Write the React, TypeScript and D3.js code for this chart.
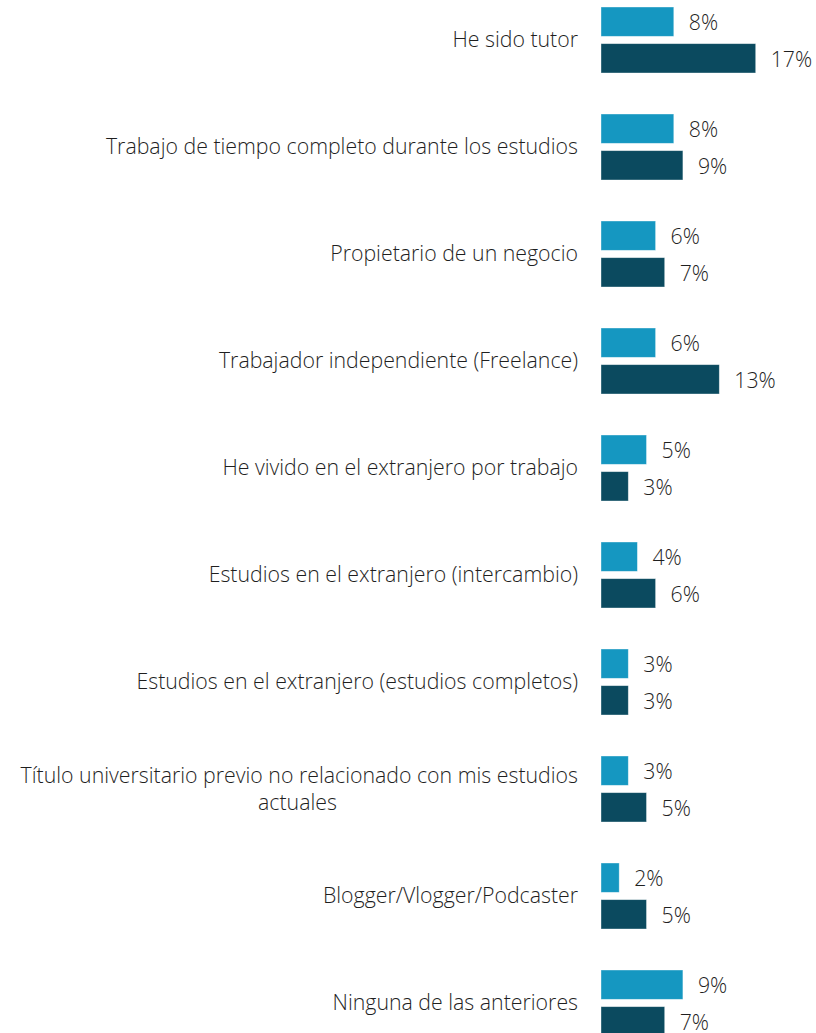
import React from "react";
import * as d3 from "d3";

const categories = [
  "He sido tutor",
  "Trabajo de tiempo completo durante los estudios",
  "Propietario de un negocio",
  "Trabajador independiente (Freelance)",
  "He vivido en el extranjero por trabajo",
  "Estudios en el extranjero (intercambio)",
  "Estudios en el extranjero (estudios completos)",
  "Título universitario previo no relacionado con mis estudios actuales",
  "Blogger/Vlogger/Podcaster",
  "Ninguna de las anteriores",
];
const seriesA = [8, 8, 6, 6, 5, 4, 3, 3, 2, 9];
const seriesB = [17, 9, 7, 13, 3, 6, 3, 5, 5, 7];
const seriesKeys = ["a", "b"];
const colors = ["#1597c1", "#0b4a5f"];

const W = 816;
const H = 1033;
const FONT = "'Open Sans', sans-serif";
const FS = 21.3;

function wrapLabel(label: string, maxChars: number): string[] {
  const words = label.split(" ");
  const lines: string[] = [];
  let cur = "";
  for (const w of words) {
    const t = cur ? cur + " " + w : w;
    if (t.length > maxChars && cur) {
      lines.push(cur);
      cur = w;
    } else cur = t;
  }
  if (cur) lines.push(cur);
  return lines;
}

export default function App() {
  const x = d3.scaleLinear().domain([0, 1]).range([601, 601 + 9.1]);
  const y = d3
    .scaleBand<string>()
    .domain(categories)
    .range([7, 1036])
    .paddingInner(41 / 107)
    .paddingOuter(0);
  const inner = d3
    .scaleBand<string>()
    .domain(seriesKeys)
    .range([0, y.bandwidth()])
    .paddingInner(0.2);

  const series = [seriesA, seriesB];

  return (
    <div style={{ position: "absolute", left: 0, top: 0 }}>
      <svg width={W} height={H} style={{ display: "block", background: "#fff" }}>
        {categories.map((c, i) => {
          const gy = y(c)!;
          const lines = wrapLabel(c, 60);
          const cy = gy + y.bandwidth() / 2;
          const lh = 27;
          return (
            <g key={c}>
              <text
                fontFamily={FONT}
                fontSize={FS}
                fontWeight={300}
                fill="#1f1f1f"
              >
                {lines.map((l, j) => (
                  <tspan
                    key={j}
                    x={j > 0 ? 297.5 : 578}
                    y={cy + (j - (lines.length - 1) / 2) * lh}
                    dy="0.35em"
                    textAnchor={j > 0 ? "middle" : "end"}
                  >
                    {l}
                  </tspan>
                ))}
              </text>
              {seriesKeys.map((k, si) => {
                const v = series[si][i];
                const by = gy + inner(k)!;
                return (
                  <g key={k}>
                    <rect
                      x={x(0)}
                      y={by}
                      width={x(v) - x(0)}
                      height={inner.bandwidth()}
                      fill={colors[si]}
                      stroke="#ffffff"
                      strokeOpacity={0.5}
                      strokeWidth={0.75}
                    />
                    <text
                      x={x(v) + 15}
                      y={by + inner.bandwidth() / 2 + 1}
                      dy="0.35em"
                      fontFamily={FONT}
                      fontSize={FS}
                      fontWeight={300}
                      fill="#1f1f1f"
                    >
                      {v + "%"}
                    </text>
                  </g>
                );
              })}
            </g>
          );
        })}
      </svg>
    </div>
  );
}
